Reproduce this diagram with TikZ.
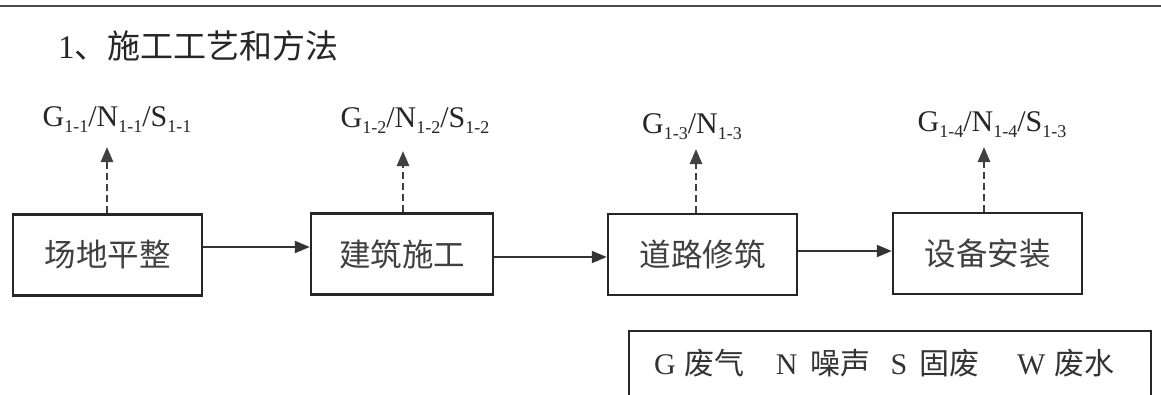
\documentclass[tikz,border=0pt]{standalone}
\usepackage{fontspec}
\setmainfont{Liberation Serif}
\newfontfamily\cjk{Noto Sans CJK SC}
\usetikzlibrary{arrows.meta}
\newcommand\lsb[1]{\raisebox{-0.22em}{\fontsize{18}{18}\selectfont #1}}
\tikzset{
  x=1pt, y=-1pt,
  stepbox/.style={draw=black!85, line width=2.5pt, minimum width=189pt, minimum height=81pt, inner sep=0pt, font=\cjk\fontsize{31.5}{31.5}\selectfont, text=black!75},
  flow/.style={draw=black!80, line width=2pt, -{Triangle[length=15pt,width=12pt]}},
  emit/.style={draw=black!75, line width=2.6pt, dash pattern=on 7pt off 4pt, -{Triangle[length=15pt,width=12pt]}},
  lbl/.style={anchor=base, inner sep=0pt, font=\fontsize{30}{30}\selectfont, text=black!85},
}
\begin{document}
\begin{tikzpicture}
\useasboundingbox (0,0) rectangle (1161,394);
\fill[white] (0,0) rectangle (1161,394);
\draw[black!70, line width=2.5pt] (0,6) -- (1161,6);
\node[anchor=base west, inner sep=0pt, font=\fontsize{33}{33}\selectfont, text=black!85] (title) at (58,58) {1{\cjk 、施工工艺和方法}};

\node[stepbox] (s1) at (107.5,255) {场地平整};
\node[stepbox, minimum width=182pt] (s2) at (402,254) {建筑施工};
\node[stepbox] (s3) at (702.5,254.5) {道路修筑};
\node[stepbox] (s4) at (987.5,253.5) {设备安装};

\draw[flow] (s1.east |- 0,247) -- (s2.west |- 0,247);
\draw[flow] (s2.east |- 0,257) -- (s3.west |- 0,257);
\draw[flow] (s3.east |- 0,251) -- (s4.west |- 0,251);

\node[lbl] (g1) at (117,126) {G\lsb{1-1}/N\lsb{1-1}/S\lsb{1-1}};
\node[lbl] (g2) at (415,127) {G\lsb{1-2}/N\lsb{1-2}/S\lsb{1-2}};
\node[lbl] (g3) at (692,133) {G\lsb{1-3}/N\lsb{1-3}};
\node[lbl] (g4) at (992,131) {G\lsb{1-4}/N\lsb{1-4}/S\lsb{1-3}};

\coordinate (e1) at (107,147);
\coordinate (e2) at (403,151);
\coordinate (e3) at (696,149);
\coordinate (e4) at (984,147);
\draw[emit] (s1.north -| e1) -- (e1);
\draw[emit] (s2.north -| e2) -- (e2);
\draw[emit] (s3.north -| e3) -- (e3);
\draw[emit] (s4.north -| e4) -- (e4);

\draw[black!85, line width=2.5pt] (629,400) -- (629,331) -- (1151,331) -- (1151,400);
\node[anchor=base west, inner sep=0pt, font=\fontsize{30}{30}\selectfont, text=black!80] (legend) at (654,374)
  {G\hspace{9pt}{\cjk 废气}\hspace{31pt}N\hspace{13pt}{\cjk 噪声}\hspace{20pt}S\hspace{12pt}{\cjk 固废}\hspace{38pt}W\hspace{9pt}{\cjk 废水}};
\end{tikzpicture}
\end{document}
